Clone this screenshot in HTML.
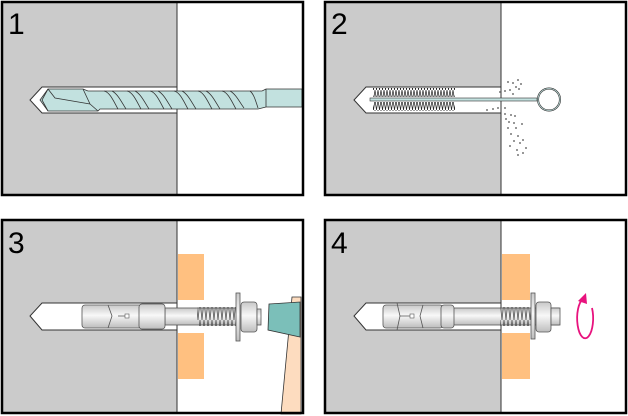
<!DOCTYPE html>
<html><head><meta charset="utf-8"><style>
html,body{margin:0;padding:0;background:#fff}
svg{display:block}
text{font-family:"Liberation Sans",sans-serif;font-size:30px;fill:#000}
</style></head><body>
<svg width="628" height="416" viewBox="0 0 628 416" xmlns="http://www.w3.org/2000/svg">
<defs>
<linearGradient id="met" x1="0" y1="0" x2="0" y2="1">
<stop offset="0" stop-color="#c8c8c8"/><stop offset="0.45" stop-color="#f8f8f8"/><stop offset="1" stop-color="#bdbdbd"/>
</linearGradient>
<pattern id="thr" width="4" height="20" patternUnits="userSpaceOnUse">
<path d="M0,0 L2,20 L4,0" fill="none" stroke="#555" stroke-width="0.8"/>
</pattern>
<pattern id="brs" width="3" height="10" patternUnits="userSpaceOnUse">
<path d="M0,0 L1.5,10 L3,0" fill="none" stroke="#222" stroke-width="0.7"/>
</pattern>
</defs>

<!-- Panel 1 -->
<rect x="2" y="2" width="175" height="193" fill="#cbcbcb"/>
<path d="M177,87 L42,87 L30,100 L42,113 L177,113 Z" fill="#fff" stroke="#333" stroke-width="1"/>
<line x1="177" y1="2" x2="177" y2="87" stroke="#333"/><line x1="177" y1="113" x2="177" y2="195" stroke="#333"/>
<path d="M48,89 L83,89 L88,91 L262,91 L266,89 L302,89 L302,107 L266,107 L258,109 L100,109 L98,111 L48,111 L40,100 Z" fill="#c2e1df" stroke="#333" stroke-width="0.8"/>
<path d="M48,89 L42,100 L48,111 M48,89 L55,98 L90,104 M90,104 L98,111 M83,89 L90,104 M266,89 L266,107" fill="none" stroke="#333" stroke-width="0.8"/>
<g fill="none" stroke="#333" stroke-width="0.8">
<path d="M104,91 C110,92 114,102 118,109 M112,91 C118,94 122,103 126,109"/>
<path d="M127,91 C133,92 137,102 141,109 M135,91 C141,94 145,103 149,109"/>
<path d="M150,91 C156,92 160,102 164,109 M158,91 C164,94 168,103 172,109"/>
<path d="M174,91 C180,92 184,102 188,109 M182,91 C188,94 192,103 196,109"/>
<path d="M198,91 C204,92 208,102 212,109 M206,91 C212,94 216,103 220,109"/>
<path d="M222,91 C228,92 232,102 236,109 M230,91 C236,94 240,103 244,108"/>
<path d="M250,91 C254,94 256,102 258,108"/>
</g>
<rect x="2" y="2" width="301" height="193" fill="none" stroke="#000" stroke-width="2.5"/>
<text x="8" y="34">1</text>

<!-- Panel 2 -->
<rect x="325" y="2" width="176" height="193" fill="#cbcbcb"/>
<path d="M501,87 L366,87 L354,100 L366,113 L501,113 Z" fill="#fff" stroke="#333"/>
<line x1="501" y1="2" x2="501" y2="87" stroke="#333"/><line x1="501" y1="113" x2="501" y2="195" stroke="#333"/>
<rect x="325" y="2" width="301" height="193" fill="none" stroke="#000" stroke-width="2.5"/>
<text x="331" y="34">2</text>
<rect x="373" y="88" width="82" height="9" fill="url(#brs)"/>
<rect x="373" y="102" width="82" height="9" fill="url(#brs)"/>
<rect x="370" y="98" width="167" height="3" fill="#c2e1df" stroke="#333" stroke-width="0.6"/>
<circle cx="549" cy="99.5" r="11" fill="#fff" stroke="#333" stroke-width="2"/>
<circle cx="549" cy="99.5" r="11" fill="none" stroke="#c2e1df" stroke-width="0.8"/>
<g fill="#777">
<circle cx="508" cy="82" r="1"/><circle cx="513" cy="83" r="1"/><circle cx="518" cy="80" r="1"/><circle cx="516" cy="87" r="1"/><circle cx="510" cy="90" r="1"/><circle cx="505" cy="91" r="1"/><circle cx="519" cy="89" r="1"/><circle cx="513" cy="94" r="1"/><circle cx="500" cy="92" r="1"/><circle cx="521" cy="84" r="1"/>
<circle cx="487" cy="110" r="1"/><circle cx="493" cy="109" r="1"/><circle cx="498" cy="108" r="1"/><circle cx="505" cy="108" r="1"/><circle cx="505" cy="114" r="1"/><circle cx="511" cy="115" r="1"/><circle cx="506" cy="119" r="1"/><circle cx="515" cy="116" r="1"/><circle cx="509" cy="122" r="1"/><circle cx="514" cy="123" r="1"/><circle cx="508" cy="128" r="1"/><circle cx="516" cy="128" r="1"/><circle cx="522" cy="124" r="1"/><circle cx="511" cy="134" r="1"/><circle cx="518" cy="136" r="1"/><circle cx="523" cy="140" r="1"/><circle cx="514" cy="141" r="1"/><circle cx="520" cy="143" r="1"/><circle cx="510" cy="146" r="1"/><circle cx="517" cy="150" r="1"/><circle cx="526" cy="148" r="1"/><circle cx="523" cy="153" r="1"/><circle cx="518" cy="155" r="1"/>
</g>

<!-- Panel 3 -->
<rect x="2" y="220" width="175" height="193" fill="#cbcbcb"/>
<path d="M177,303 L42,303 L30,316 L42,330 L177,330 Z" fill="#fff" stroke="#333"/>
<line x1="177" y1="220" x2="177" y2="303" stroke="#333"/><line x1="177" y1="330" x2="177" y2="413" stroke="#333"/>
<rect x="178" y="254" width="26" height="46" fill="#ffc080"/>
<rect x="178" y="333" width="26" height="46" fill="#ffc080"/>
<text x="8" y="253">3</text>
<rect x="165" y="308" width="72" height="17" fill="url(#met)" stroke="#555" stroke-width="0.8"/>
<rect x="197" y="307" width="40" height="19" fill="url(#thr)"/>
<rect x="82" y="305" width="68" height="23" rx="3" fill="url(#met)" stroke="#555" stroke-width="0.8"/>
<rect x="139" y="304" width="26" height="25" rx="3" fill="url(#met)" stroke="#555" stroke-width="0.8"/>
<path d="M108,305 L112,316 L108,328 M118,316 L125,316" fill="none" stroke="#555" stroke-width="0.8"/>
<rect x="125" y="314" width="4" height="4" fill="#fff" stroke="#555" stroke-width="0.6"/>
<rect x="236" y="293" width="4" height="48" fill="url(#met)" stroke="#555" stroke-width="0.8"/>
<rect x="241" y="302" width="16" height="30" rx="3" fill="url(#met)" stroke="#555" stroke-width="0.8"/>
<rect x="257" y="309" width="4" height="16" fill="url(#met)" stroke="#555" stroke-width="0.8"/>
<path d="M292,297 L301,297 L301,414 L281,414 Z" fill="#fddcbf" stroke="#333" stroke-width="0.8"/>
<path d="M269,304 L300,302 L300,337 L268,330 Z" fill="#7bbfb9" stroke="#333" stroke-width="0.8"/>
<rect x="2" y="220" width="301" height="193" fill="none" stroke="#000" stroke-width="2.5"/>

<!-- Panel 4 -->
<rect x="325" y="220" width="176" height="193" fill="#cbcbcb"/>
<path d="M501,303 L366,303 L354,316 L366,330 L501,330 Z" fill="#fff" stroke="#333"/>
<line x1="501" y1="220" x2="501" y2="303" stroke="#333"/><line x1="501" y1="330" x2="501" y2="413" stroke="#333"/>
<rect x="502" y="254" width="28" height="46" fill="#ffc080"/>
<rect x="502" y="333" width="28" height="46" fill="#ffc080"/>
<text x="331" y="253">4</text>
<rect x="453" y="308" width="106" height="17" fill="url(#met)" stroke="#555" stroke-width="0.8"/>
<rect x="500" y="307" width="34" height="19" fill="url(#thr)"/>
<rect x="383" y="305" width="60" height="23" rx="3" fill="url(#met)" stroke="#555" stroke-width="0.8"/>
<rect x="441" y="305" width="13" height="23" rx="3" fill="url(#met)" stroke="#555" stroke-width="0.8"/>
<path d="M397,303 L400,316 L397,330 M423,305 L420,316 L423,328 M400,316 L410,316" fill="none" stroke="#555" stroke-width="0.8"/>
<rect x="410" y="314" width="4" height="4" fill="#fff" stroke="#555" stroke-width="0.6"/>
<rect x="531" y="293" width="4" height="46" fill="url(#met)" stroke="#555" stroke-width="0.8"/>
<rect x="536" y="302" width="15" height="30" rx="3" fill="url(#met)" stroke="#555" stroke-width="0.8"/>
<rect x="551" y="308" width="9" height="17" fill="url(#met)" stroke="#555" stroke-width="0.8"/>
<path d="M583,299 A8,20 0 1,0 592,308" fill="none" stroke="#e8137e" stroke-width="1.8"/>
<path d="M578,301 L586,293 L587,304 Z" fill="#e8137e"/>
<rect x="325" y="220" width="301" height="193" fill="none" stroke="#000" stroke-width="2.5"/>
</svg>
</body></html>
